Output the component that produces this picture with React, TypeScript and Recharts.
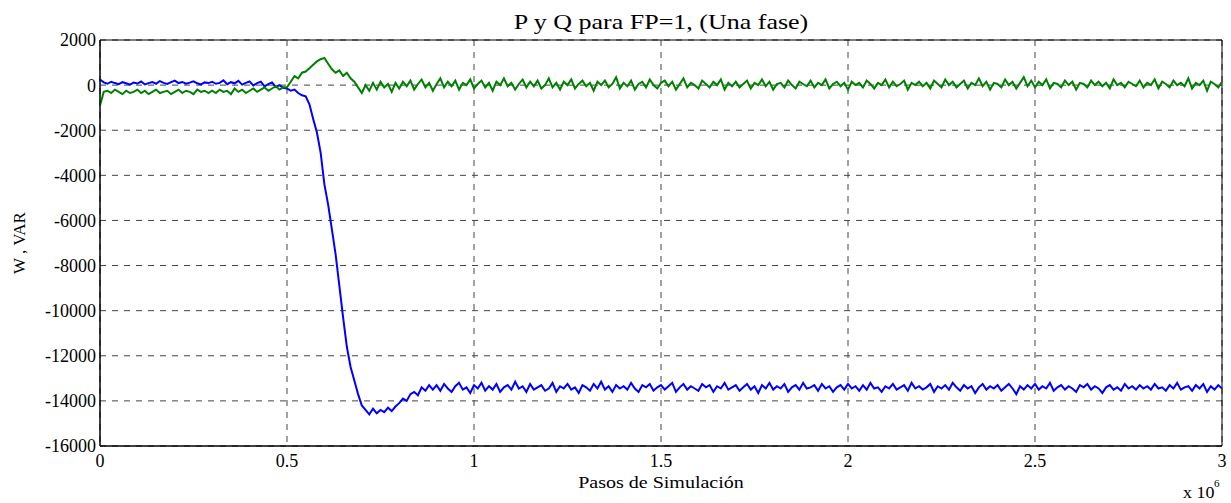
import { LineChart, Line, XAxis, YAxis, CartesianGrid, ReferenceArea } from "recharts"

// sample spacing of the stored traces, in units of 10^6 simulation steps
const STEP = 0.01

const X_TICKS = [0, 0.5, 1, 1.5, 2, 2.5, 3]
const Y_TICKS = [-16000, -14000, -12000, -10000, -8000, -6000, -4000, -2000, 0, 2000]

// P (blue), W
const pWatts = [
  250, 120, 60, 150, 90, 40, 130, 80, 20, 110,
  70, 160, 30, 90, 140, 60, 180, 100, 50, 130,
  200, 90, 140, 60, 110, 170, 80, 30, 120, 90,
  150, 60, 100, 210, 40, 130, 80, 190, 20, 100,
  160, -20, 90, 150, -60, 40, 120, -80, 0, -120,
  -150, -250, -200, -350, -450, -500, -850, -1500, -2100, -3000,
  -4400, -5300, -6400, -7500, -8900, -10300, -11600, -12500, -13100, -13700,
  -14200, -14400, -14600, -14350, -14550, -14400, -14500, -14300, -14450, -14250,
  -14100, -13900, -14000, -13700, -13600, -13750, -13400, -13550, -13300, -13500,
  -13300, -13550, -13250, -13450, -13600, -13350, -13200, -13500, -13400, -13650,
  -13300, -13450, -13200, -13550, -13350, -13500, -13250, -13600, -13400, -13300,
  -13500, -13150, -13450, -13350, -13600, -13250, -13500, -13400, -13300, -13550,
  -13450, -13200, -13600, -13350, -13450, -13250, -13500, -13400, -13650, -13300,
  -13400, -13550, -13250, -13450, -13150, -13500, -13350, -13600, -13300, -13450,
  -13350, -13500, -13200, -13450, -13600, -13300, -13400, -13250, -13550, -13400,
  -13300, -13500, -13350, -13200, -13600, -13400, -13250, -13500, -13350, -13450,
  -13550, -13250, -13400, -13300, -13600, -13350, -13450, -13200, -13500, -13400,
  -13300, -13550, -13400, -13250, -13500, -13350, -13650, -13300, -13450, -13200,
  -13500, -13350, -13450, -13250, -13600, -13400, -13300, -13500, -13200, -13450,
  -13400, -13300, -13550, -13250, -13450, -13350, -13600, -13400, -13300, -13500,
  -13250, -13450, -13350, -13550, -13300, -13500, -13200, -13450, -13400, -13600,
  -13350, -13450, -13250, -13500, -13400, -13300, -13550, -13200, -13450, -13350,
  -13500, -13400, -13250, -13600, -13350, -13450, -13300, -13500, -13200, -13400,
  -13550, -13300, -13450, -13350, -13650, -13400, -13250, -13500, -13350, -13450,
  -13300, -13550, -13400, -13250, -13450, -13700, -13350, -13500, -13300, -13450,
  -13250, -13500, -13350, -13450, -13200, -13550, -13400, -13300, -13500, -13350,
  -13450, -13600, -13300, -13400, -13250, -13500, -13350, -13450, -13650, -13400,
  -13300, -13500, -13400, -13550, -13250, -13450, -13350, -13500, -13300, -13450,
  -13350, -13500, -13250, -13450, -13400, -13550, -13300, -13450, -13200, -13500,
  -13400, -13350, -13550, -13300, -13450, -13250, -13600, -13350, -13500, -13300, -13450,
]

// Q (green), VAR
const qVars = [
  -900, -300, -250, -350, -200, -300, -400, -250, -350, -300,
  -200, -350, -250, -400, -300, -200, -350, -300, -250, -400,
  -300, -200, -350, -250, -300, -400, -200, -300, -250, -350,
  -250, -350, -200, -300, -250, -400, -150, -300, -200, -350,
  -250, -150, -300, -200, -100, -250, -150, -50, -200, -100,
  -100, 150, 400, 300, 550, 600, 750, 900, 1050, 1150,
  1200, 950, 700, 550, 650, 400, 550, 300, 150, -100,
  -350, 0, -250, 100, -200, 150, -100, 50, -300, 100,
  -150, 150, -50, 200, -200, 50, 250, -100, 100, -250,
  50, 300, -100, 150, -50, 200, -200, 100, 0, 250,
  -150, 50, 200, -100, 100, -250, 150, 0, 300, -50,
  100, -200, 50, 250, -100, 150, -50, 200, -150, 0,
  300, -100, 100, -200, 150, 0, 250, -150, 50, 200,
  -50, 100, -250, 150, 0, 200, -100, 50, 350, -150,
  100, -50, 200, -200, 50, 150, -100, 250, 0, -150,
  100, 200, -50, 150, -200, 50, 300, -100, 100, 0,
  -150, 200, 50, -100, 150, 0, 250, -200, 100, -50,
  150, -100, 50, 200, -150, 100, 0, 250, -50, 150,
  -200, 50, 100, -100, 200, 0, -150, 150, 50, -50,
  200, -100, 100, 0, 250, -150, 50, 150, -50, 100,
  -200, 150, 0, 100, -100, 200, 50, -150, 100, 0,
  250, -100, 150, -50, 50, 200, -200, 100, 0, 150,
  -50, 100, -150, 200, 50, -100, 250, 0, 150, -100,
  50, 200, -150, 100, 0, 300, -50, 150, -200, 100,
  50, -100, 250, 0, 150, -150, 100, 350, -50, 200,
  -100, 150, 0, 250, -150, 100, 50, -100, 200, 0,
  150, -200, 100, 50, -100, 200, 0, 150, -50, 100,
  -150, 250, 0, 100, -100, 150, 50, -50, 200, -100,
  100, 0, 250, -150, 150, 50, -100, 200, 0, 100,
  -50, 300, -150, 100, 0, 200, -250, 150, 50, -100, 150,
]

const SERIF = "'Liberation Serif', 'Times New Roman', serif"
const tickStyle = { fill: "#000", fontSize: 18, fontFamily: SERIF }

export default function App() {
  const data = pWatts.map((p, i) => ({ x: +(i * STEP).toFixed(2), p, q: qVars[i] }))

  return (
    <div
      style={{
        position: "absolute",
        left: 0,
        top: 0,
        width: 1231,
        height: 503,
        background: "#fff",
        fontFamily: SERIF,
      }}
    >
      <LineChart
        width={1231}
        height={503}
        data={data}
        margin={{ top: 40, right: 9, bottom: 0, left: 0 }}
        style={{ fontFamily: SERIF }}
      >
        <CartesianGrid stroke="#444" strokeDasharray="6 6" strokeWidth={1} />
        <XAxis
          dataKey="x"
          type="number"
          domain={[0, 3]}
          ticks={X_TICKS}
          interval={0}
          height={57}
          stroke="#000"
          tickLine={false}
          tickSize={6}
          tickMargin={2}
          tick={tickStyle}
        />
        <YAxis
          type="number"
          domain={[-16000, 2000]}
          ticks={Y_TICKS}
          interval={0}
          width={100}
          stroke="#000"
          tickLine={false}
          tickSize={4}
          tickMargin={0}
          tick={tickStyle}
        />
        <Line dataKey="p" stroke="#0000ff" strokeWidth={2} dot={false} isAnimationActive={false} />
        <Line dataKey="q" stroke="#008000" strokeWidth={2} dot={false} isAnimationActive={false} />
        <ReferenceArea x1={0} x2={3} y1={-16000} y2={2000} fill="none" stroke="#000" strokeWidth={1} />
      </LineChart>
      <svg
        width={1231}
        height={503}
        style={{ position: "absolute", left: 0, top: 0, pointerEvents: "none" }}
      >
        <text transform="translate(661,29) scale(1.3,1)" textAnchor="middle" fontSize={20} fontFamily={SERIF} fill="#000">
          P y Q para FP=1, (Una fase)
        </text>
        <text transform="translate(661,488) scale(1.25,1)" textAnchor="middle" fontSize={16} fontFamily={SERIF} fill="#000">
          Pasos de Simulación
        </text>
        <text transform="translate(25,243) rotate(-90)" textAnchor="middle" fontSize={17} fontFamily={SERIF} fill="#000">
          W , VAR
        </text>
        <text transform="translate(1183,498) scale(1.12,1)" fontSize={16} fontFamily={SERIF} fill="#000">
          x 10
        </text>
        <text transform="translate(1214,487)" fontSize={11} fontFamily={SERIF} fill="#000">
          6
        </text>
      </svg>
    </div>
  )
}
